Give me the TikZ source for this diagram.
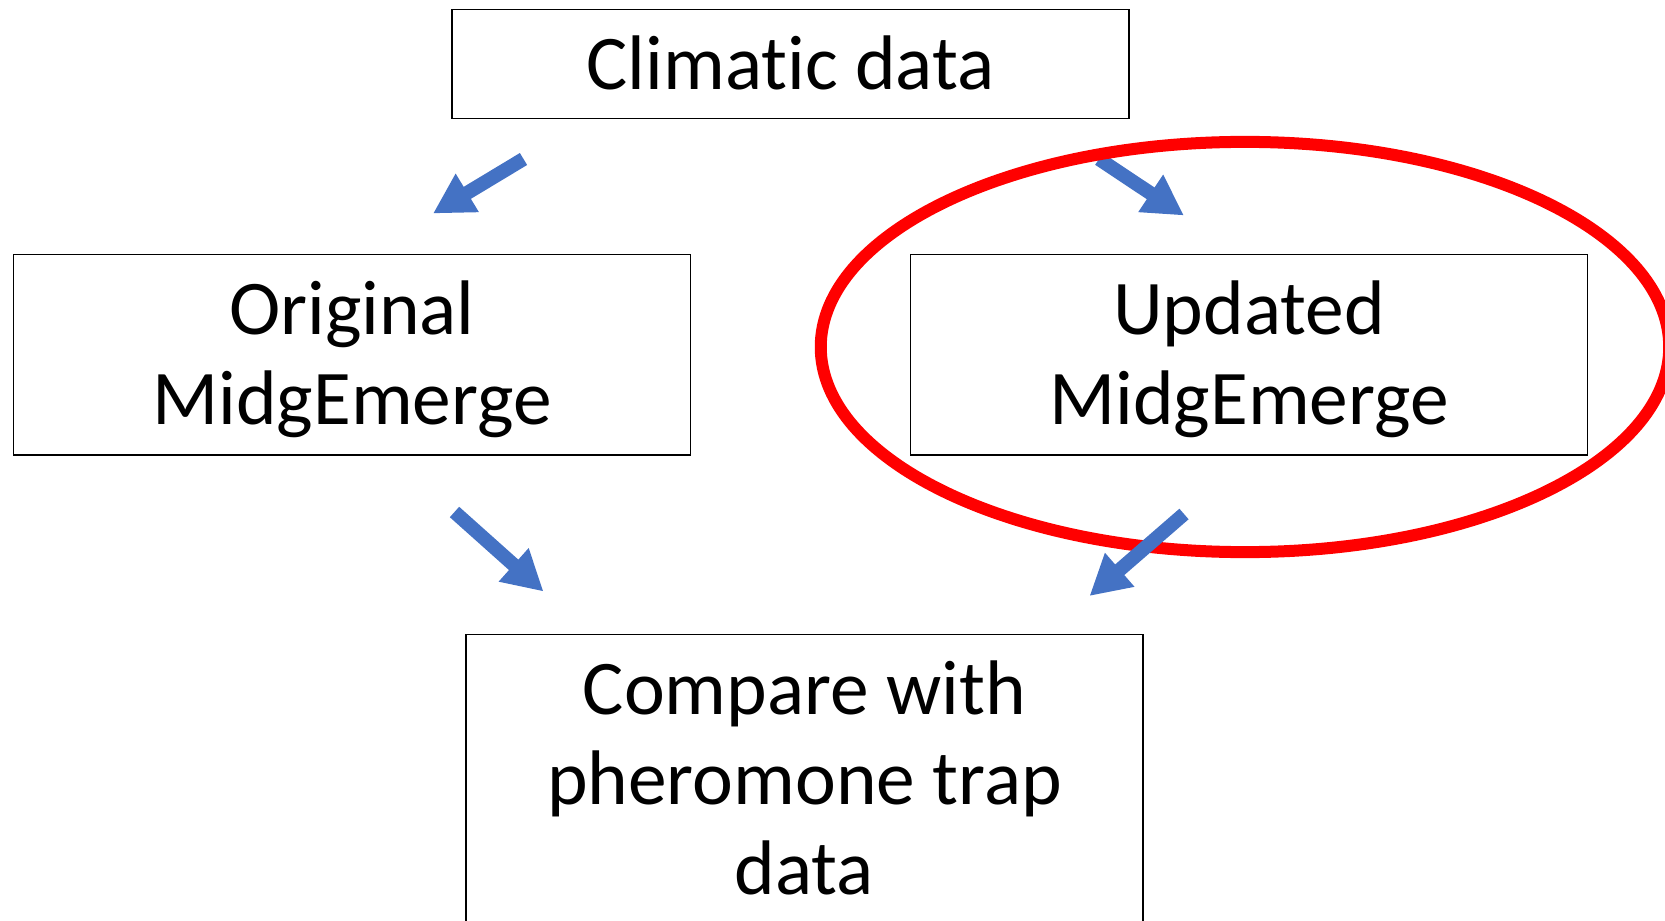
\documentclass[tikz,border=0pt]{standalone}
\usepackage{fontspec}
\setmainfont{Carlito}[Ligatures=NoCommon]
\usetikzlibrary{arrows.meta}
\definecolor{arrowblue}{RGB}{68,114,196}
\definecolor{ringred}{RGB}{255,0,0}

\begin{document}
\begin{tikzpicture}[
  x=0.01cm, y=-0.01cm,
  box/.style={draw, line width=0.4pt, anchor=north, inner sep=0pt,
    text width=6.77cm, align=flush center, text height=0.8cm,
    font=\fontsize{22pt}{25.6pt}\selectfont},
  flow/.style={arrowblue, line width=0.14cm,
    -{Triangle[length=0.4cm,width=0.42cm]}},
  ring/.style={ringred, line width=0.12cm}
]
\useasboundingbox (0,0) rectangle (1665,921);

\node[box, text depth=0.29cm] (clim) at (790.5,8.5) {Climatic data};
\node[box, text depth=1.2cm] (orig) at (352,254) {Original\\MidgEmerge};
\node[box, text depth=1.2cm] (upd) at (1249,254) {Updated\\MidgEmerge};
\node[box, text depth=3cm] (cmp) at (804.5,634) {Compare with\\pheromone trap\\data};

% arrow ends
\coordinate (c1) at (523.5,159);
\coordinate (o1) at (433,213.5);
\coordinate (c2) at (1099,159);
\coordinate (u1) at (1184,215.5);
\coordinate (o2) at (454.5,512);
\coordinate (m1) at (543.5,591.5);
\coordinate (u2) at (1184,514);
\coordinate (m2) at (1089.5,596);

\draw[flow] (c1) -- (o1);
\draw[flow] (c2) -- (u1);
\draw[flow] (o2) -- (m1);

% highlight
\draw[ring] (1245,347) ellipse [x radius=4.24cm, y radius=2.05cm];

\draw[flow] (u2) -- (m2);
\end{tikzpicture}
\end{document}
